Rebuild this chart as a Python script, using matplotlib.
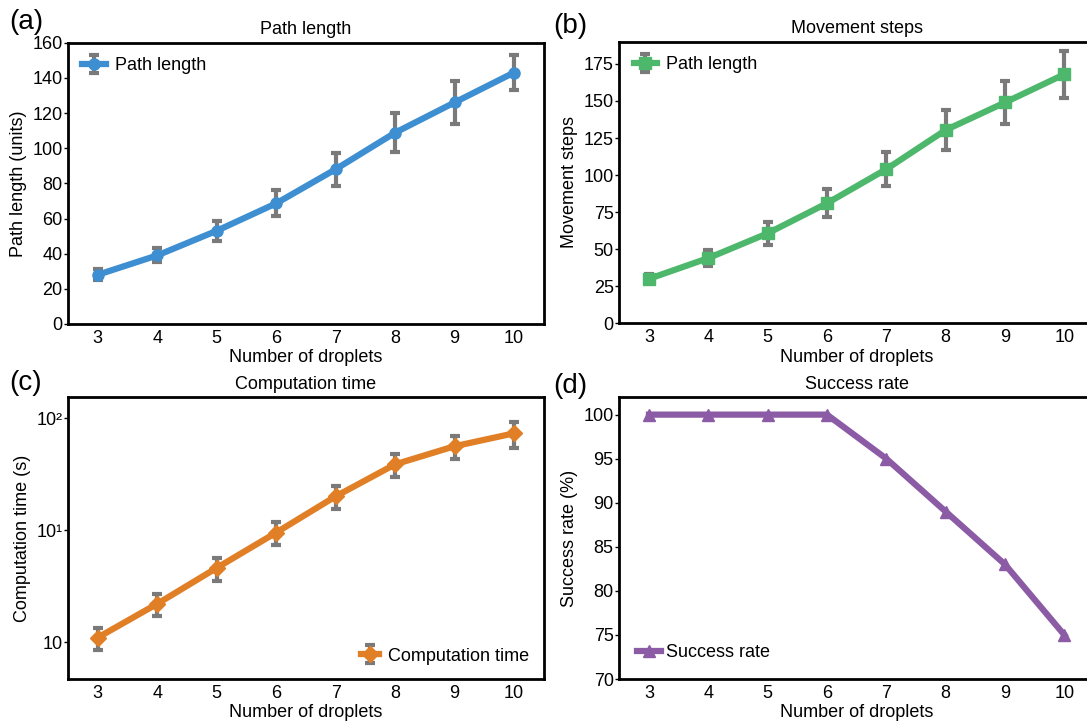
import matplotlib
matplotlib.use("Agg")
import matplotlib.pyplot as plt
from matplotlib.ticker import FixedLocator, FixedFormatter, NullLocator

plt.rcParams['font.family'] = ['Liberation Sans', 'DejaVu Sans']

droplets = [3, 4, 5, 6, 7, 8, 9, 10]
path_len = [28, 39, 53, 68.6, 88, 108.8, 126, 143]
path_err = [3, 4, 5.7, 7.4, 9.3, 11, 12.3, 10]
steps = [30, 44, 60.7, 81, 104, 130.4, 149, 168]
steps_err = [3, 5.4, 7.6, 9.6, 11.5, 13.8, 14.4, 15.7]
comp_time = [1.1, 2.2, 4.6, 9.5, 20, 38.6, 56, 73]
comp_err = [0.25, 0.5, 1.05, 2.2, 4.6, 9, 13, 19]
success = [100, 100, 100, 100, 95, 89, 83, 75]

BLUE = '#3D8FD1'
GREEN = '#4DB86B'
ORANGE = '#E07F26'
PURPLE = '#8C5BA5'
GRAY = '#7A7A7A'

W, H = 1087, 726
fig = plt.figure(figsize=(W / 100, H / 100), dpi=100)


def add_ax(left, right, top, bottom):
    return fig.add_axes([left / W, (H - bottom) / H, (right - left) / W, (bottom - top) / H])


axa = add_ax(68, 543.7, 42.7, 324)
axb = add_ax(619.3, 1094, 41.7, 323.3)
axc = add_ax(68, 543.7, 397, 679)
axd = add_ax(619.3, 1094, 397, 679)

FS = 13


def style(ax, title, ylabel):
    for s in ax.spines.values():
        s.set_linewidth(2)
        s.set_color('black')
    ax.set_xlim(2.5, 10.5)
    ax.set_xticks(droplets)
    ax.tick_params(axis='x', length=0, labelsize=FS, pad=4)
    ax.tick_params(axis='y', length=3, width=1, labelsize=FS, pad=1)
    ax.set_title(title, fontsize=FS, pad=6)
    ax.set_xlabel('Number of droplets', fontsize=FS, labelpad=2)
    ax.set_ylabel(ylabel, fontsize=FS, labelpad=4)


def eb(ax, y, err, color, marker, label):
    ax.errorbar(droplets, y, yerr=err, color=color, lw=4.5, marker=marker, ms=8,
                ecolor=GRAY, elinewidth=3, capsize=3.5, capthick=3, label=label, zorder=3)


# (a)
eb(axa, path_len, path_err, BLUE, 'o', 'Path length')
style(axa, 'Path length', 'Path length (units)')
axa.set_ylim(0, 160)
axa.set_yticks(range(0, 161, 20))
axa.legend(loc='upper left', frameon=False, fontsize=FS, handlelength=1.3, handletextpad=0.5,
           borderaxespad=0.4)

# (b)
eb(axb, steps, steps_err, GREEN, 's', 'Path length')
style(axb, 'Movement steps', 'Movement steps')
axb.set_ylim(0, 190)
axb.set_yticks(range(0, 176, 25))
axb.legend(loc='upper left', frameon=False, fontsize=FS, handlelength=1.3, handletextpad=0.5,
           borderaxespad=0.4)

# (c)
eb(axc, comp_time, comp_err, ORANGE, 'D', 'Computation time')
style(axc, 'Computation time', 'Computation time (s)')
axc.set_yscale('log')
axc.set_ylim(0.47, 154)
axc.yaxis.set_major_locator(FixedLocator([1, 10, 100]))
axc.yaxis.set_major_formatter(FixedFormatter(['10', '10\u00b9', '10\u00b2']))
axc.yaxis.set_minor_locator(NullLocator())
axc.legend(loc='lower right', frameon=False, fontsize=FS, handlelength=1.0, handletextpad=0.5,
           borderaxespad=0.4)

# (d)
axd.plot(droplets, success, color=PURPLE, lw=4.5, marker='^', ms=9, label='Success rate')
style(axd, 'Success rate', 'Success rate (%)')
axd.set_ylim(70, 102)
axd.set_yticks(range(70, 101, 5))
axd.legend(loc='lower left', frameon=False, fontsize=FS, handlelength=1.3, handletextpad=0.3,
           borderaxespad=0.6)

# panel labels
for txt, x, y in [('(a)', 9, 22), ('(b)', 553, 26), ('(c)', 9, 383), ('(d)', 553, 386)]:
    fig.text(x / W, 1 - y / H, txt, fontsize=20, va='center', ha='left')

fig.savefig('out.png', dpi=100)
